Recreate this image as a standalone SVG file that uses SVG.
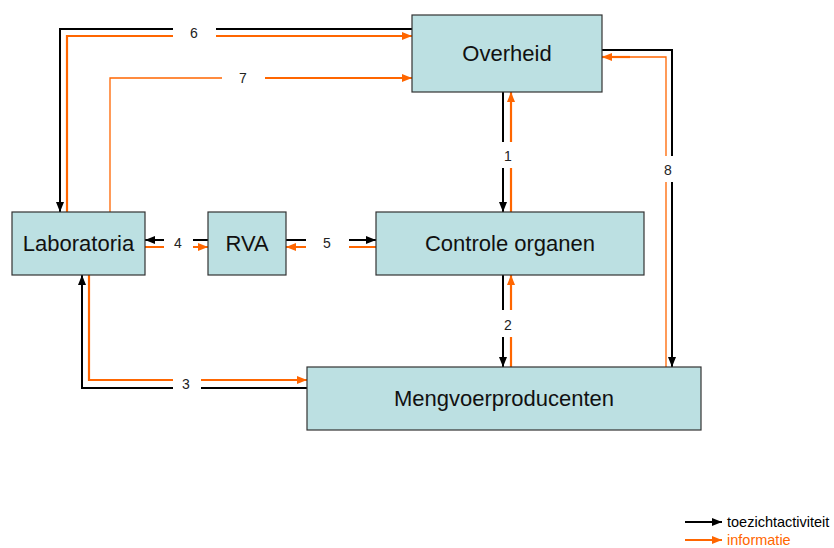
<svg xmlns="http://www.w3.org/2000/svg" width="834" height="548" viewBox="0 0 834 548">
<style>
.box{fill:#bce0e2;stroke:#333;stroke-width:1.2}
.lbl{font-family:"Liberation Sans",Arial,sans-serif;font-size:22px;fill:#111;text-anchor:middle}
.num{font-family:"Liberation Sans",Arial,sans-serif;font-size:14px;fill:#222;text-anchor:middle}
.blk{fill:none;stroke:#000;stroke-width:2}
.org{fill:none;stroke:#ff6600;stroke-width:2.2}
.thin{fill:none;stroke:#ff6600;stroke-width:1.3}
.gap{fill:#fff}
.leg{font-family:"Liberation Sans",Arial,sans-serif;font-size:14.5px}
</style>
<defs>
<marker id="ab" markerUnits="userSpaceOnUse" markerWidth="10" markerHeight="10" viewBox="0 0 10 10" refX="10" refY="5" orient="auto"><path d="M0,1 L10,5 L0,9 Z" fill="#000"/></marker>
<marker id="ao" markerUnits="userSpaceOnUse" markerWidth="10" markerHeight="10" viewBox="0 0 10 10" refX="10" refY="5" orient="auto"><path d="M0,1 L10,5 L0,9 Z" fill="#ff6600"/></marker>
</defs>
<g id="connectors">
<!-- 6 -->
<polyline class="blk" points="412,29 60,29 60,212" marker-end="url(#ab)"/>
<polyline class="org" points="67,212 67,36 412,36" marker-end="url(#ao)"/>
<rect class="gap" x="173" y="22" width="43" height="20"/>
<text class="num" x="194" y="38">6</text>
<!-- 7 -->
<polyline class="thin" points="110,212 110,78 400,78"/>
<line class="org" x1="265" y1="78" x2="412" y2="78" marker-end="url(#ao)"/>
<rect class="gap" x="222" y="70" width="43" height="18"/>
<text class="num" x="243" y="83">7</text>
<!-- 1 -->
<line class="blk" x1="503" y1="92" x2="503" y2="212" marker-end="url(#ab)"/>
<line class="org" x1="511" y1="212" x2="511" y2="92" marker-end="url(#ao)"/>
<rect class="gap" x="498" y="142" width="20" height="26"/>
<text class="num" x="508" y="161">1</text>
<!-- 2 -->
<line class="blk" x1="503" y1="275" x2="503" y2="367" marker-end="url(#ab)"/>
<line class="org" x1="511" y1="367" x2="511" y2="275" marker-end="url(#ao)"/>
<rect class="gap" x="498" y="310" width="20" height="27"/>
<text class="num" x="508" y="330">2</text>
<!-- 8 -->
<polyline class="blk" points="602,50 672,50 672,367" marker-end="url(#ab)"/>
<polyline class="thin" points="666,367 666,57 612,57"/>
<line class="org" x1="630" y1="57" x2="602" y2="57" marker-end="url(#ao)"/>
<rect class="gap" x="658" y="156" width="20" height="26"/>
<text class="num" x="668" y="175">8</text>
<!-- 3 -->
<polyline class="blk" points="307,388 82,388 82,275" marker-end="url(#ab)"/>
<polyline class="org" points="89,275 89,380 307,380" marker-end="url(#ao)"/>
<rect class="gap" x="173" y="374" width="28" height="20"/>
<text class="num" x="186" y="389">3</text>
<!-- 4 -->
<line class="blk" x1="208" y1="240" x2="145" y2="240" marker-end="url(#ab)"/>
<line class="org" x1="145" y1="247" x2="208" y2="247" marker-end="url(#ao)"/>
<rect class="gap" x="164" y="232" width="29" height="22"/>
<text class="num" x="178" y="248">4</text>
<!-- 5 -->
<line class="blk" x1="286" y1="240" x2="376" y2="240" marker-end="url(#ab)"/>
<line class="org" x1="376" y1="247" x2="286" y2="247" marker-end="url(#ao)"/>
<rect class="gap" x="306" y="232" width="43" height="22"/>
<text class="num" x="327" y="248">5</text>
</g>
<g id="overheid"><rect class="box" x="412" y="15" width="190" height="77"/><text class="lbl" x="507" y="61">Overheid</text></g>
<g id="controle"><rect class="box" x="376" y="212" width="268" height="63"/><text class="lbl" x="510" y="251">Controle organen</text></g>
<g id="laboratoria"><rect class="box" x="12" y="212" width="133" height="63"/><text class="lbl" x="78.5" y="251">Laboratoria</text></g>
<g id="rva"><rect class="box" x="208" y="212" width="78" height="63"/><text class="lbl" x="247" y="251">RVA</text></g>
<g id="mengvoer"><rect class="box" x="307" y="367" width="394" height="63"/><text class="lbl" x="504" y="406">Mengvoerproducenten</text></g>
<g id="legend">
<line class="blk" x1="685" y1="522" x2="722" y2="522" marker-end="url(#ab)"/>
<text class="leg" x="727" y="527" fill="#000">toezichtactiviteit</text>
<line class="org" x1="685" y1="540" x2="722" y2="540" marker-end="url(#ao)"/>
<text class="leg" x="727" y="545" fill="#ff6600">informatie</text>
</g>
</svg>
